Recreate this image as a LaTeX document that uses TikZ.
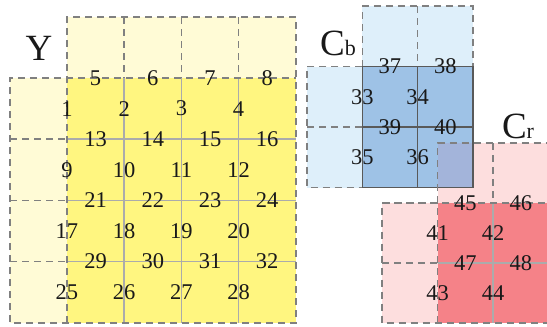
\documentclass[tikz,border=0pt]{standalone}
\usepackage{fontspec}
\setmainfont{Liberation Serif}
\definecolor{lumaPale}{RGB}{255,251,214}
\definecolor{lumaFull}{RGB}{255,246,128}
\definecolor{chromaBPale}{RGB}{222,239,250}
\definecolor{chromaBFull}{RGB}{158,194,230}
\definecolor{chromaMix}{RGB}{163,180,218}
\definecolor{chromaRPale}{RGB}{253,222,222}
\definecolor{chromaRFull}{RGB}{245,130,136}
\tikzstyle{guide}=[draw=black!50, line width=1.5pt, dash pattern=on 7pt off 5pt]
\tikzstyle{grid}=[draw=black!33, line width=1.5pt]
\tikzstyle{edge}=[draw=black!65, line width=1.5pt]
\tikzstyle{num}=[inner sep=0pt, text=black!90, font=\fontsize{22.5}{22.5}\selectfont]
\tikzstyle{title}=[inner sep=0pt, text=black!90, font=\fontsize{37}{37}\selectfont]

\begin{document}
\begin{tikzpicture}[x=1pt, y=-1pt]
				\useasboundingbox (0,0) rectangle (547,327);
				\clip (0,0) rectangle (547,327);

				% Luma samples
				\fill[lumaPale] (67,17) rectangle (296,78);
				\fill[lumaPale] (10,78) rectangle (67,323);
				\fill[lumaFull] (67,78) rectangle (296,323);
				\foreach \x in {124.2, 181.4, 238.6}{ \draw[grid] (\x,78) -- (\x,323); }
				\foreach \y in {139.2, 200.4, 261.6}{ \draw[grid] (67,\y) -- (296,\y); }
				\draw[guide] (67,323) -- (67,17) -- (296,17) -- (296,323) -- (10,323) -- (10,78) -- (296,78);
				\foreach \x in {124.2, 181.4, 238.6}{ \draw[guide] (\x,17) -- (\x,78); }
				\foreach \y in {139.2, 200.4, 261.6}{ \draw[guide] (10,\y) -- (67,\y); }

				% Cb samples
				\fill[chromaBPale] (362.3,6) rectangle (472.9,66.5);
				\fill[chromaBPale] (307,66.5) rectangle (362.3,187.5);
				\fill[chromaBFull] (362.3,66.5) rectangle (472.9,187.5);
				\draw[guide] (362.3,66.5) -- (362.3,6) -- (472.9,6) -- (472.9,66.5);
				\draw[guide] (417.6,6) -- (417.6,66.5);
				\draw[guide] (362.3,66.5) -- (307,66.5) -- (307,187.5) -- (362.3,187.5);
				\draw[guide] (307,127) -- (362.3,127);

				% Cr samples
				\fill[chromaRPale] (437.5,143) rectangle (548.5,203);
				\fill[chromaMix] (437.5,143) rectangle (472.9,187.5);
				\fill[chromaRPale] (382,203) rectangle (437.5,323);
				\fill[chromaRFull] (437.5,203) rectangle (548.5,323);
				\draw[grid] (493,203) -- (493,323);
				\draw[grid] (437.5,263) -- (548.5,263);

				\draw[edge] (362.3,66.5) rectangle (472.9,187.5);
				\draw[edge] (417.6,66.5) -- (417.6,187.5);
				\draw[edge] (362.3,127) -- (472.9,127);

				\draw[guide] (437.5,323) -- (437.5,143) -- (548.5,143);
				\draw[guide] (493,143) -- (493,203);
				\draw[guide] (382,203) -- (548.5,203);
				\draw[guide] (437.5,203) -- (382,203) -- (382,323) -- (548.5,323);
				\draw[guide] (382,263) -- (437.5,263);

				\node[title] (lumaTitle) at (39,48) {Y};
				\node[title] (cbTitle) at (338,43) {C{\fontsize{22}{22}\selectfont b}};
				\node[title] (crTitle) at (518,126) {C{\fontsize{22}{22}\selectfont r}};

				\foreach \i in {0,...,3}{
					\foreach \j in {0,...,3}{
						\pgfmathtruncatemacro{\odd}{8*\i+\j+1}
						\pgfmathtruncatemacro{\even}{8*\i+\j+5}
						\node[num] (s\odd) at ({67+57.2*\j}, {108.6+61.2*\i}) {\odd};
						\node[num] (s\even) at ({95.6+57.2*\j}, {78+61.2*\i}) {\even};
					}
				}
				\foreach \i in {0,1}{
					\foreach \j in {0,1}{
						\pgfmathtruncatemacro{\cbodd}{33+2*\i+\j}
						\pgfmathtruncatemacro{\cbeven}{37+2*\i+\j}
						\pgfmathtruncatemacro{\crodd}{41+2*\i+\j}
						\pgfmathtruncatemacro{\creven}{45+2*\i+\j}
						\node[num] (s\cbodd) at ({362.3+55.3*\j}, {96.75+60.5*\i}) {\cbodd};
						\node[num] (s\cbeven) at ({389.95+55.3*\j}, {66.5+60.5*\i}) {\cbeven};
						\node[num] (s\crodd) at ({437.5+55.5*\j}, {233+60*\i}) {\crodd};
						\node[num] (s\creven) at ({465.25+55.5*\j}, {203+60*\i}) {\creven};
					}
				}
			\end{tikzpicture}
\end{document}
